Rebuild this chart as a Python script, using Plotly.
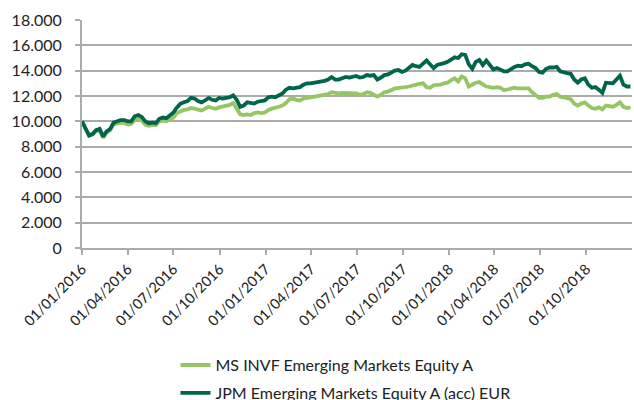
import pandas as pd
import plotly.graph_objects as go

start_date = "2016-01-01"
n_weeks = 157
dates = pd.date_range(start_date, periods=n_weeks, freq="7D")

ms_name = "MS INVF Emerging Markets Equity A"
jpm_name = "JPM Emerging Markets Equity A (acc) EUR"

jpm = [10000, 9500, 8900, 9000, 9300, 9400, 8800, 9200, 9400, 9900,
       10000, 10100, 10100, 10000, 10000, 10400, 10500, 10350, 10000, 9850,
       9900, 9850, 10200, 10300, 10250, 10500, 10700, 11100, 11400, 11500,
       11600, 11850, 11800, 11600, 11500, 11650, 11850, 11700, 11650, 11850,
       11800, 11850, 11900, 12050, 11700, 11150, 11250, 11500, 11450, 11400,
       11550, 11600, 11650, 11900, 11950, 11900, 12050, 12200, 12500, 12650,
       12600, 12650, 12700, 12900, 13000, 13000, 13050, 13100, 13100, 13200,
       13300, 13500, 13300, 13300, 13400, 13500, 13450, 13550, 13580, 13450,
       13500, 13650, 13600, 13650, 13300, 13450, 13650, 13700, 13850, 14000,
       14050, 13900, 14000, 14200, 14450, 14350, 14300, 14550, 14800, 14500,
       14200, 14450, 14500, 14600, 14700, 14900, 15050, 15000, 15300, 15250,
       14500, 14150, 14700, 14850, 14450, 14800, 14500, 14100, 14200, 14100,
       13950, 13950, 14150, 14300, 14400, 14350, 14500, 14550, 14350, 14200,
       13900, 13850, 14150, 14250, 14250, 14300, 13950, 13850, 13800, 13750,
       13300, 13050, 13300, 13400, 12900, 12650, 12700, 12500, 12250, 13050,
       13050, 13000, 13300, 13600, 12900, 12750, 12750]

ms = [10000, 9450, 8850, 8950, 9250, 9300, 8700, 9100, 9300, 9750,
      9800, 9900, 9850, 9750, 9800, 10100, 10200, 10050, 9750, 9650,
      9700, 9700, 10000, 10050, 10000, 10150, 10300, 10650, 10800, 10900,
      10950, 11050, 11000, 10900, 10850, 11000, 11150, 11050, 11000, 11100,
      11150, 11200, 11300, 11450, 11000, 10550, 10500, 10550, 10500, 10650,
      10700, 10650, 10700, 10900, 11000, 11050, 11150, 11250, 11450, 11750,
      11800, 11700, 11650, 11800, 11850, 11850, 11900, 11950, 12000, 12050,
      12150, 12300, 12250, 12200, 12250, 12250, 12200, 12250, 12200, 12100,
      12150, 12300, 12250, 12100, 11950, 12100, 12300, 12350, 12500, 12600,
      12650, 12650, 12700, 12750, 12850, 12900, 12950, 13000, 12700, 12650,
      12850, 12850, 12900, 13000, 13050, 13250, 13400, 13150, 13550, 13400,
      12750, 12900, 13050, 13100, 12900, 12750, 12700, 12650, 12700, 12650,
      12450, 12500, 12600, 12650, 12600, 12600, 12650, 12600, 12300, 12050,
      11850, 11850, 11950, 11950, 12100, 12150, 11950, 11900, 11850, 11750,
      11400, 11250, 11400, 11500, 11250, 11050, 11000, 11100, 10950, 11250,
      11200, 11150, 11300, 11500, 11150, 11050, 11100]

light_green = "#96C564"
dark_green = "#00654B"
grid_gray = "#ABABAB"
font_family = "Lato, 'Open Sans', sans-serif"

fig = go.Figure()
fig.add_trace(go.Scatter(x=dates, y=ms, name=ms_name, mode="lines",
                         line=dict(color=light_green, width=3.8),
                         legendgroup="a"))
fig.add_trace(go.Scatter(x=dates, y=jpm, name=jpm_name, mode="lines",
                         line=dict(color=dark_green, width=3.8),
                         legendgroup="b"))

fig.update_layout(
    width=634, height=400,
    margin=dict(l=82, r=2, t=20, b=152, autoexpand=False),
    paper_bgcolor="white", plot_bgcolor="white",
    separators=",.",
    font=dict(family=font_family, size=13, color="#222222"),
    showlegend=True,
    legend=dict(orientation="v", x=0.17, y=-0.439, xanchor="left", yanchor="top",
                traceorder="grouped", tracegroupgap=4,
                font=dict(size=16, color="#222222"), bgcolor="rgba(0,0,0,0)"),
    xaxis=dict(range=["2016-01-01", "2018-12-31"], dtick="M3",
               tick0="2016-01-01", tickformat="%d/%m/%Y", tickangle=-45,
               showgrid=False, showline=True, linecolor=grid_gray, linewidth=2,
               ticks="outside", ticklen=5, tickcolor=grid_gray, tickwidth=1.5,
               tickfont=dict(size=14.5), automargin=False),
    yaxis=dict(range=[0, 18000], dtick=2000, tickformat=",d",
               showgrid=True, gridcolor=grid_gray, gridwidth=1.5,
               showline=True, linecolor=grid_gray, linewidth=2,
               ticks="outside", ticklen=5, tickcolor=grid_gray, tickwidth=1.5,
               ticklabelstandoff=10,
               zeroline=False, tickfont=dict(size=16), automargin=False),
)

fig.write_html("out.html", config={"displayModeBar": False},
               post_script="document.body.style.margin='0';")
